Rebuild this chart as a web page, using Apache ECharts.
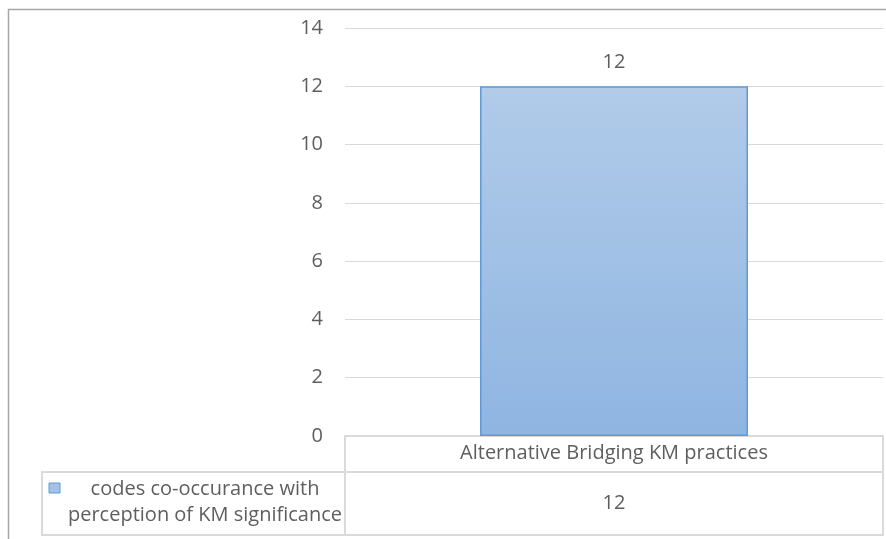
<!DOCTYPE html>
<html>
<head>
<meta charset="utf-8">
<script src="https://cdn.jsdelivr.net/npm/echarts@6/dist/echarts.min.js"></script>
<style>
  html, body { margin: 0; padding: 0; background: #fff; }
  #chart { width: 886px; height: 539px; }
</style>
</head>
<body>
<div id="chart"></div>
<script>
// Chart data
const categories = ['Alternative Bridging KM practices'];
const seriesName = 'codes co-occurance with perception of KM significance';
const seriesNameLines = ['codes co-occurance with', 'perception of KM significance'];
const values = [12];
const yTicks = { min: 0, max: 14, interval: 2 };

const FONT = '"Open Sans", sans-serif';
const FS = 20;
const TXT = '#5e5e5e';
const BORDER = '#dadada';

const chart = echarts.init(document.getElementById('chart'));

// Grid geometry (pixels) shared by the plot and the data table beneath it
const gLeft = 345, gRight = 3, gTop = 28, gBottom = 103;
const W = 886, H = 539;
const plotRight = W - gRight, axisY = H - gBottom;

chart.setOption({
  animation: false,
  grid: { left: gLeft, right: gRight, top: gTop, bottom: gBottom },
  xAxis: [
    {
      type: 'category',
      data: categories,
      axisLine: { show: false },
      axisTick: { show: false },
      axisLabel: { color: TXT, fontFamily: FONT, fontSize: FS, margin: 7 }
    },
    {
      type: 'category',
      position: 'bottom',
      data: values.map(String),
      axisLine: { show: false },
      axisTick: { show: false },
      axisLabel: { color: TXT, fontFamily: FONT, fontSize: FS, margin: 57 }
    }
  ],
  yAxis: {
    type: 'value',
    min: yTicks.min, max: yTicks.max, interval: yTicks.interval,
    axisLine: { show: false },
    axisTick: { show: false },
    axisLabel: { color: TXT, fontFamily: FONT, fontSize: FS, margin: 22 },
    splitLine: { lineStyle: { color: '#d9d9d9', width: 1 } }
  },
  series: [{
    name: seriesName,
    type: 'bar',
    data: values,
    barWidth: 268,
    itemStyle: {
      color: new echarts.graphic.LinearGradient(0, 0, 0, 1, [
        { offset: 0, color: '#b1cbe9' },
        { offset: 1, color: '#8fb5e1' }
      ]),
      borderColor: '#5f9ad6',
      borderWidth: 1.5
    },
    label: {
      show: true, position: 'top', distance: 14,
      color: TXT, fontFamily: FONT, fontSize: FS
    }
  }],
  graphic: [
    // outer chart frame
    { type: 'rect', shape: { x: 8.5, y: 9.5, width: 900, height: 600 },
      style: { fill: 'none', stroke: '#a6a6a6', lineWidth: 1.5 }, silent: true },
    // data table: category row
    { type: 'rect', shape: { x: gLeft, y: axisY, width: plotRight - gLeft, height: 36 },
      style: { fill: 'none', stroke: BORDER, lineWidth: 2 }, silent: true },
    // data table: series row
    { type: 'rect', shape: { x: 42, y: axisY + 36, width: plotRight - 42, height: 63 },
      style: { fill: 'none', stroke: BORDER, lineWidth: 2 }, silent: true },
    { type: 'line', shape: { x1: gLeft, y1: axisY + 36, x2: gLeft, y2: axisY + 99 },
      style: { stroke: BORDER, lineWidth: 2 }, silent: true },
    // legend key
    { type: 'rect', shape: { x: 49, y: 483, width: 11, height: 10 },
      style: { fill: '#a4c2e6', stroke: '#5f9ad6', lineWidth: 1 }, silent: true },
    // series name
    { type: 'text', x: 205, y: 502,
      style: { text: seriesNameLines.join('\n'), fill: TXT, font: FS + 'px ' + FONT,
               align: 'center', verticalAlign: 'middle', lineHeight: 26 }, silent: true }
  ]
});
</script>
</body>
</html>
